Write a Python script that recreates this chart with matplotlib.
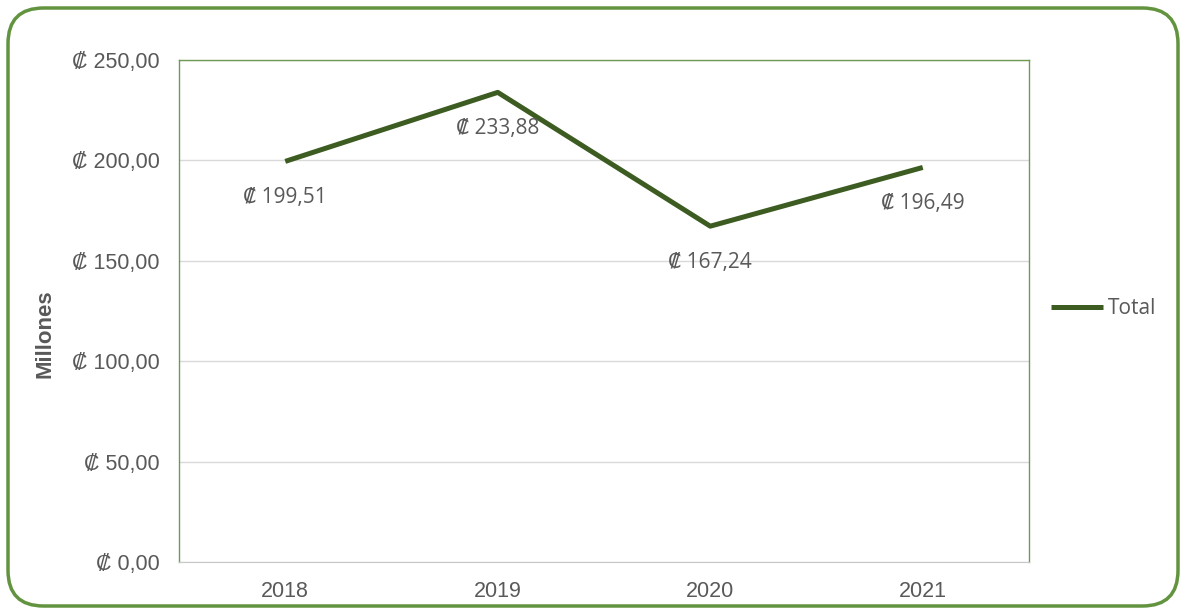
import matplotlib
matplotlib.use("Agg")
import matplotlib.pyplot as plt
from matplotlib.patches import FancyBboxPatch

# datos
years = ["2018", "2019", "2020", "2021"]
totals = [199.51, 233.88, 167.24, 196.49]
yticks = [0, 50, 100, 150, 200, 250]

line_color = "#3d5c22"
text_gray = "#595959"


def colones(v):
    return "₡ " + ("%.2f" % v).replace(".", ",")


fig = plt.figure(figsize=(11.86, 6.14), dpi=100)
fig.patch.set_facecolor("white")

# marco redondeado del grafico
frame = FancyBboxPatch((8 / 1186, 8 / 614), 1170 / 1186, 598 / 614,
                       boxstyle="round,pad=0,rounding_size=0.03",
                       transform=fig.transFigure, facecolor="none",
                       edgecolor="#62933f", linewidth=2.5, mutation_aspect=1186 / 614)
fig.patches.append(frame)

ax = fig.add_axes([179 / 1186, 1 - 562 / 614, 850 / 1186, 502 / 614])
x = list(range(len(years)))
ax.plot(x, totals, color=line_color, linewidth=3.6, solid_capstyle="butt",
        label="Total")

for xi, v in zip(x, totals):
    ax.annotate(colones(v), (xi, v), xytext=(0, -26), textcoords="offset points",
                ha="center", va="center", fontsize=15, color=text_gray,
                family=["Open Sans", "DejaVu Sans"])

ax.set_xlim(-0.5, len(years) - 0.5)
ax.set_ylim(0, 250)
ax.set_xticks(x)
ax.set_xticklabels(years)
ax.set_yticks(yticks)
ax.set_yticklabels([colones(v) for v in yticks])
ax.tick_params(length=0, labelsize=15.5, labelcolor=text_gray)
ax.tick_params(axis="x", pad=14)
ax.tick_params(axis="y", pad=14)
for lbl in ax.get_xticklabels() + ax.get_yticklabels():
    lbl.set_family(["Liberation Sans", "DejaVu Sans"])

ax.grid(axis="y", color="#d9d9d9", linewidth=1)
ax.set_axisbelow(True)
for side in ["top", "right", "left"]:
    ax.spines[side].set_color("#6e9a52")
    ax.spines[side].set_linewidth(1)
ax.spines["bottom"].set_color("#c8c8c8")

ax.set_ylabel("Millones", fontsize=16, fontweight="bold", color=text_gray,
              family=["Liberation Sans", "DejaVu Sans"])
ax.yaxis.set_label_coords(-0.145, 0.455)

leg = ax.legend(loc="center left", bbox_to_anchor=(1.004, 0.505), frameon=False,
                handlelength=2.5, handletextpad=0.2,
                prop={"family": ["Open Sans", "DejaVu Sans"], "size": 15})
for t in leg.get_texts():
    t.set_color(text_gray)

fig.savefig("out.png", dpi=100)
